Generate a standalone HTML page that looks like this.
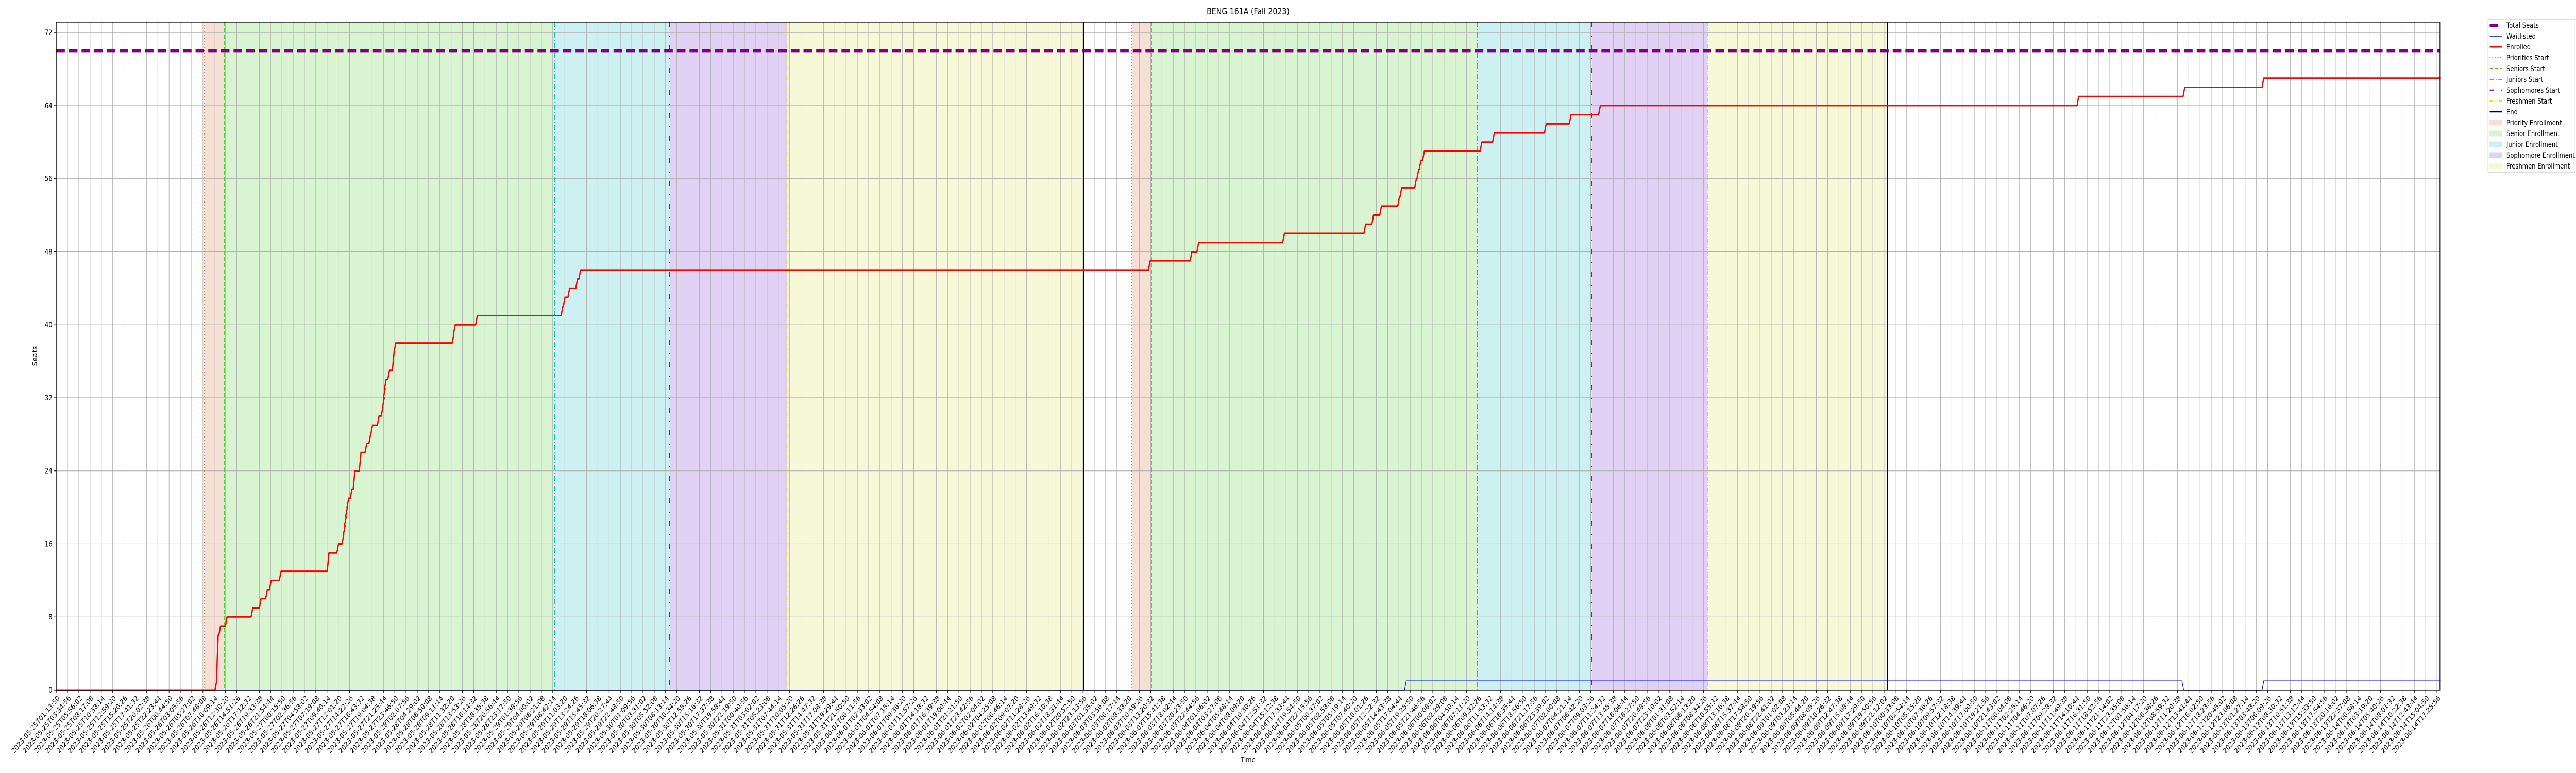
<!DOCTYPE html>
<html><head><meta charset="utf-8"><style>
html,body{margin:0;padding:0;background:#fff;width:100%;height:100%;overflow:hidden;}
svg{display:block;font-family:"DejaVu Sans","Liberation Sans",sans-serif;overflow:hidden;width:100vw;height:100vh;}
</style></head><body>
<svg id="chart" viewBox="0 0 6000 1500" preserveAspectRatio="none" xmlns="http://www.w3.org/2000/svg">
<rect width="6000" height="1500" fill="#fff"/>
<text x="2907" y="28" font-size="17" text-anchor="middle">BENG 161A (Fall 2023)</text>
<g id="spans"></g><g id="grid"></g><g id="vlines"></g><g id="series"></g><g id="axes"></g>
<text x="0" y="0" font-size="14" text-anchor="middle" transform="translate(86,691) rotate(-90)">Seats</text>
<text x="2907" y="1479" font-size="14" text-anchor="middle">Time</text>
<g id="legend"></g>
</svg>
<script>
const yTicks = [0, 8, 16, 24, 32, 40, 48, 56, 64, 72];
const totalSeats = 70;
const phaseNames = ["priority", "senior", "junior", "sophomore", "freshmen", "end"];
const round1Starts = [13.13, 14.88, 44.18, 54.35, 64.76, 91.06];
const round2Starts = [95.32, 97.07, 125.95, 136.1, 146.35, 162.3];
const enrolledT = [0, 14.07, 14.2, 14.41, 14.99, 17.27, 18.0, 18.56, 18.9, 19.77, 24.02, 24.87, 25.33, 25.45, 25.55, 25.65, 25.77, 26.06, 26.32, 26.86, 27.37, 27.71, 27.88, 28.46, 28.8, 28.92, 29.0, 29.09, 29.38, 29.79, 29.94, 35.09, 35.21, 37.17, 44.75, 44.94, 45.35, 46.05, 46.32, 96.8, 100.5, 101.1, 108.7, 115.9, 116.6, 117.3, 118.9, 119.1, 120.4, 120.6, 120.8, 121.1, 126.2, 127.3, 131.9, 134.1, 136.7, 179.1, 188.5, 195.5];
const enrolledV = [0, 1, 6, 7, 8, 9, 10, 11, 12, 13, 15, 16, 17, 18, 19, 20, 21, 22, 24, 26, 27, 28, 29, 30, 31, 32, 33, 34, 35, 37, 38, 39, 40, 41, 42, 43, 44, 45, 46, 47, 48, 49, 50, 51, 52, 53, 54, 55, 56, 57, 58, 59, 60, 61, 62, 63, 64, 65, 66, 67];
const waitT = [0, 119.5, 188.4, 195.5];
const waitV = [0, 1, 0, 1];
const tickCount = 212;
const tickStartMs = Date.UTC(2023, 4, 25, 1, 13, 50);
const tickStepMs = 8466000;
const tickLabels = [];
for (let i = 0; i < tickCount; i++) tickLabels.push(new Date(tickStartMs + i * tickStepMs).toISOString().slice(0, 19));

const NS = "http://www.w3.org/2000/svg";
const L = 131, R = 5683, T = 43, B = 1339, UMAX = 211.3;
const xs = u => L + u * 26.28;
const ys = v => B - v * 17.72;
function mk(parent, tag, attrs) {
  const e = document.createElementNS(NS, tag);
  for (const k in attrs) e.setAttribute(k, attrs[k]);
  parent.appendChild(e);
  return e;
}
const spanColors = ["#f6e0d6", "#d9f4d1", "#cdf1f3", "#e1d2f5", "#f6f8d8"];
const lineStyles = [
  {c: "#ee7a3a", d: "2,4", w: 2},
  {c: "#3ccc1a", d: "8,4", w: 2},
  {c: "#10c4cc", d: "10,4,2,4", w: 2},
  {c: "#6622cc", d: "10,16,2,16", w: 2.5},
  {c: "#e0e02a", d: "8,3,2,3,2,3", w: 2},
  {c: "#000", d: "", w: 2.5}
];
const spansG = document.getElementById("spans");
const vG = document.getElementById("vlines");
[round1Starts, round2Starts].forEach((st, r) => {
  for (let i = 0; i < 5; i++) {
    const s = mk(spansG, "rect", {x: xs(st[i]), y: T, width: xs(st[i + 1]) - xs(st[i]), height: B - T, fill: spanColors[i]});
    
    
  }
  for (let i = 0; i < 6; i++) {
    const ls = lineStyles[i];
    const l = mk(vG, "line", {x1: xs(st[i]), x2: xs(st[i]), y1: T, y2: B, stroke: ls.c, "stroke-width": ls.w, "stroke-dasharray": ls.d});
    
    
  }
});
const gridG = document.getElementById("grid");
const axesG = document.getElementById("axes");
tickLabels.forEach((lab, i) => {
  const x = xs(i);
  const g = mk(gridG, "line", {x1: x, x2: x, y1: T, y2: B, stroke: "#b0b0b0", "stroke-width": 1.1});
  
  
  const tk = mk(axesG, "line", {x1: x, x2: x, y1: B, y2: B + 5, stroke: "#000", "stroke-width": 1.1});
  
  
  const t = mk(axesG, "text", {x: x + 2, y: B + 10, "font-size": 13.9, "text-anchor": "end", "dominant-baseline": "hanging", transform: `rotate(-45 ${x + 2} ${B + 10})`});
  t.textContent = lab;
  
  
});
yTicks.forEach(v => {
  const y = ys(v);
  const g = mk(gridG, "line", {x1: L, x2: R, y1: y, y2: y, stroke: "#b0b0b0", "stroke-width": 1.1});
  
  
  const tk = mk(axesG, "line", {x1: L - 5, x2: L, y1: y, y2: y, stroke: "#000", "stroke-width": 1.1});
  
  
  const t = mk(axesG, "text", {x: L - 9, y: y + 5, "font-size": 13.9, "text-anchor": "end"});
  t.textContent = v;
  
  
});
const frame = mk(axesG, "rect", {x: L, y: T, width: R - L, height: B - T, fill: "none", stroke: "#000", "stroke-width": 1.3});



function stepPath(ts, vs) {
  let d = `M${xs(ts[0])},${ys(vs[0])}`;
  for (let i = 1; i < ts.length; i++) {
    d += ` L${xs(ts[i])},${ys(vs[i - 1])} L${xs(ts[i] + 0.15)},${ys(vs[i])}`;
  }
  d += ` L${xs(UMAX)},${ys(vs[vs.length - 1])}`;
  return d;
}
const serG = document.getElementById("series");
const ts = mk(serG, "line", {x1: L, x2: R, y1: ys(totalSeats), y2: ys(totalSeats), stroke: "#800080", "stroke-width": 5.5, "stroke-dasharray": "20,9.5"});


const wl = mk(serG, "path", {d: stepPath(waitT, waitV), fill: "none", stroke: "#0000ff", "stroke-width": 1.5});


const en = mk(serG, "path", {d: stepPath(enrolledT, enrolledV), fill: "none", stroke: "#ff0000", "stroke-width": 3, "stroke-linejoin": "round"});



const lg = document.getElementById("legend");
const box = mk(lg, "rect", {x: 5795, y: 37, width: 203, height: 298, rx: 3, fill: "#fff", "fill-opacity": 0.8, stroke: "#cccccc", "stroke-width": 1.2});


const legendLabels = ["Total Seats", "Waitlisted", "Enrolled", "Priorities Start", "Seniors Start", "Juniors Start", "Sophomores Start", "Freshmen Start", "End", "Priority Enrollment", "Senior Enrollment", "Junior Enrollment", "Sophomore Enrollment", "Freshmen Enrollment"];
legendLabels.forEach((lab, i) => {
  const cy = 49 + i * 21;
  const g = mk(lg, "g", {});
  
  
  if (i === 0) mk(g, "rect", {x: 5799, y: cy - 3, width: 20, height: 6, fill: "#800080"});
  else if (i === 1) mk(g, "line", {x1: 5799, x2: 5828, y1: cy, y2: cy, stroke: "#0000ff", "stroke-width": 1.5});
  else if (i === 2) mk(g, "line", {x1: 5799, x2: 5828, y1: cy, y2: cy, stroke: "#ff0000", "stroke-width": 3});
  else if (i <= 8) {
    const ls = lineStyles[i - 3];
    mk(g, "line", {x1: 5799, x2: 5828, y1: cy, y2: cy, stroke: ls.c, "stroke-width": ls.w, "stroke-dasharray": ls.d});
  } else {
    mk(g, "rect", {x: 5799, y: cy - 5, width: 29, height: 10, fill: spanColors[i - 9], stroke: spanColors[i - 9]});
  }
  const t = mk(g, "text", {x: 5838, y: cy + 5, "font-size": 13.9});
  t.textContent = lab;
});
</script>
</body></html>
